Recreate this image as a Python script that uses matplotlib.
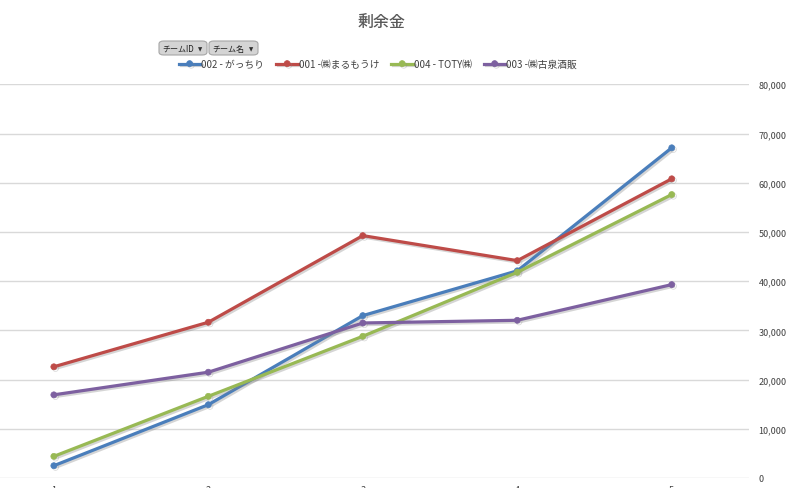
import matplotlib
matplotlib.use("Agg")
import matplotlib.pyplot as plt
import matplotlib.patheffects as pe
from matplotlib.patches import FancyBboxPatch
from matplotlib.ticker import FuncFormatter

plt.rcParams['font.family'] = ['Noto Sans CJK JP', 'DejaVu Sans']

rounds = [1, 2, 3, 4, 5]
team_names = ["002 - がっちり", "001 -㈱まるもうけ", "004 - TOTY㈱", "003 -㈱古泉酒販"]
team_002 = [2500, 14900, 33000, 42100, 67100]
team_001 = [22600, 31650, 49250, 44170, 60800]
team_004 = [4400, 16600, 28800, 41800, 57600]
team_003 = [16900, 21500, 31500, 32050, 39300]
colors = ["#4A7EBB", "#BE4B48", "#98B954", "#7D60A0"]
y_ticks = [0, 10000, 20000, 30000, 40000, 50000, 60000, 70000, 80000]

W, H = 787, 489
fig = plt.figure(figsize=(W / 100, H / 100), dpi=100)

# plot area in pixels: x 0.5 -> -23px, 5.5 -> 749px ; y 0 -> 479px, 80000 -> 85px
left_px, right_px = -23.4, 749
top_px, bottom_px = 85.3, 479
ax = fig.add_axes([left_px / W, (H - bottom_px) / H,
                   (right_px - left_px) / W, (bottom_px - top_px) / H])
ax.set_xlim(0.5, 5.5)
ax.set_ylim(0, 80000)

shadow = [pe.SimpleLineShadow(offset=(1.2, -1.2), shadow_color="#888888", alpha=0.35),
          pe.Normal()]
series = [team_002, team_001, team_004, team_003]
handles = []
for vals, c, name in zip(series, colors, team_names):
    ln, = ax.plot(rounds, vals, color=c, lw=2.3, marker="o", ms=4.3,
                  mfc=c, mec=c, mew=0.5, label=name, zorder=3,
                  path_effects=shadow, solid_joinstyle="round")
    handles.append(ln)

ax.set_yticks(y_ticks)
ax.yaxis.set_major_formatter(FuncFormatter(lambda v, p: f"{int(v):,}"))
ax.yaxis.tick_right()
ax.grid(axis="y", color="#D9D9D9", lw=1)
ax.set_axisbelow(True)
ax.set_xticks(rounds)
ax.tick_params(axis="y", length=0, pad=7, labelsize=6.5, labelcolor="#404040")
ax.tick_params(axis="x", length=0, pad=5, labelsize=6.5, labelcolor="#404040")
for s in ax.spines.values():
    s.set_visible(False)

fig.text(382 / W, 1 - 22 / H, "剰余金", ha="center", va="center",
         fontsize=11.5, color="#595959", fontweight="medium")

# pivot chart field buttons
for x0, x1, label in [(159, 207, "チームID"), (209, 258, "チーム名")]:
    box = FancyBboxPatch((x0 / W, 1 - 56 / H), (x1 - x0) / W, 14 / H,
                         boxstyle="round,pad=0,rounding_size=0.006",
                         transform=fig.transFigure, fc="#D4D4D4", ec="#A6A6A6", lw=0.8)
    fig.add_artist(box)
    fig.text((x0 + 3) / W, 1 - 49 / H, label, ha="left", va="center",
             fontsize=5.8, color="#202020")
    fig.text((x1 - 7) / W, 1 - 49.5 / H, "▼", ha="center", va="center",
             fontsize=4, color="#303030", family=["DejaVu Sans"])

fig.legend(handles=handles, labels=team_names, loc="center",
           bbox_to_anchor=(378 / W, 1 - 65 / H), ncol=4, frameon=False,
           fontsize=7, handlelength=2.2, handletextpad=0.1, columnspacing=1.25,
           labelcolor="#404040")

fig.savefig("out.png", dpi=100)
